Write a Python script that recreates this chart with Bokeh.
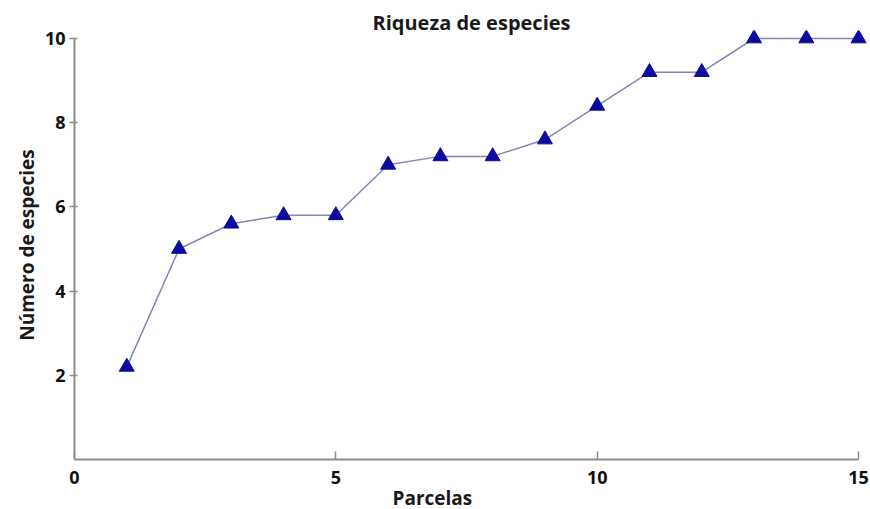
from bokeh.plotting import figure
from bokeh.models import Range1d, FixedTicker, Title
from bokeh.embed import file_html
from bokeh.resources import INLINE

parcelas = [1, 2, 3, 4, 5, 6, 7, 8, 9, 10, 11, 12, 13, 14, 15]
especies = [2.2, 5.0, 5.6, 5.8, 5.8, 7.0, 7.2, 7.2, 7.6, 8.4, 9.2, 9.2, 10, 10, 10]
x_ticks = [0, 5, 10, 15]
y_ticks = [2, 4, 6, 8, 10]

FONT = "Open Sans"

p = figure(width=870, height=509, output_backend="svg", toolbar_location=None,
           x_range=Range1d(0, 15.19), y_range=Range1d(0, 10.19),
           title="Riqueza de especies",
           min_border_left=74, min_border_right=2, min_border_top=30, min_border_bottom=50)

p.title.align = "center"
p.title.text_font = FONT
p.title.text_font_style = "bold"
p.title.text_font_size = "20px"
p.title.text_color = "#1a1a1a"
p.title.standoff = -11

p.outline_line_color = None
p.xgrid.visible = False
p.ygrid.visible = False

for ax in (p.xaxis[0], p.yaxis[0]):
    ax.axis_line_color = "#8c8c8c"
    ax.axis_line_width = 2
    ax.major_tick_line_color = "#8c8c8c"
    ax.major_tick_line_width = 1.5
    ax.minor_tick_line_color = None
    ax.major_label_text_font = FONT
    ax.major_label_text_font_style = "bold"
    ax.major_label_text_font_size = "18px"
    ax.major_label_text_color = "#111111"
    ax.axis_label_text_font = FONT
    ax.axis_label_text_font_style = "bold"
    ax.axis_label_text_font_size = "19px"
    ax.axis_label_text_color = "#1a1a1a"

p.xaxis.ticker = FixedTicker(ticks=x_ticks)
p.yaxis.ticker = FixedTicker(ticks=y_ticks)
p.xaxis.bounds = (0, 15)
p.yaxis.bounds = (0, 10)
p.xaxis.major_tick_in = 8
p.xaxis.major_tick_out = 0
p.yaxis.major_tick_in = 3
p.yaxis.major_tick_out = 5
p.xaxis.major_label_standoff = 11
p.yaxis.major_label_standoff = 4
p.yaxis.axis_label = "Número de especies"
p.yaxis.axis_label_standoff = 2

xlabel = Title(text="Parcelas", align="left", offset=318, text_font=FONT,
               text_font_style="bold", text_font_size="19px", text_color="#1a1a1a",
               standoff=-8)
p.add_layout(xlabel, "below")

p.line(parcelas, especies, line_color="#8585b5", line_width=1.5)
p.scatter(parcelas, especies, marker="triangle", size=15,
          fill_color="#0b0b9e", line_color="#0b0b9e")

open("out.html", "w").write(file_html(p, INLINE))
